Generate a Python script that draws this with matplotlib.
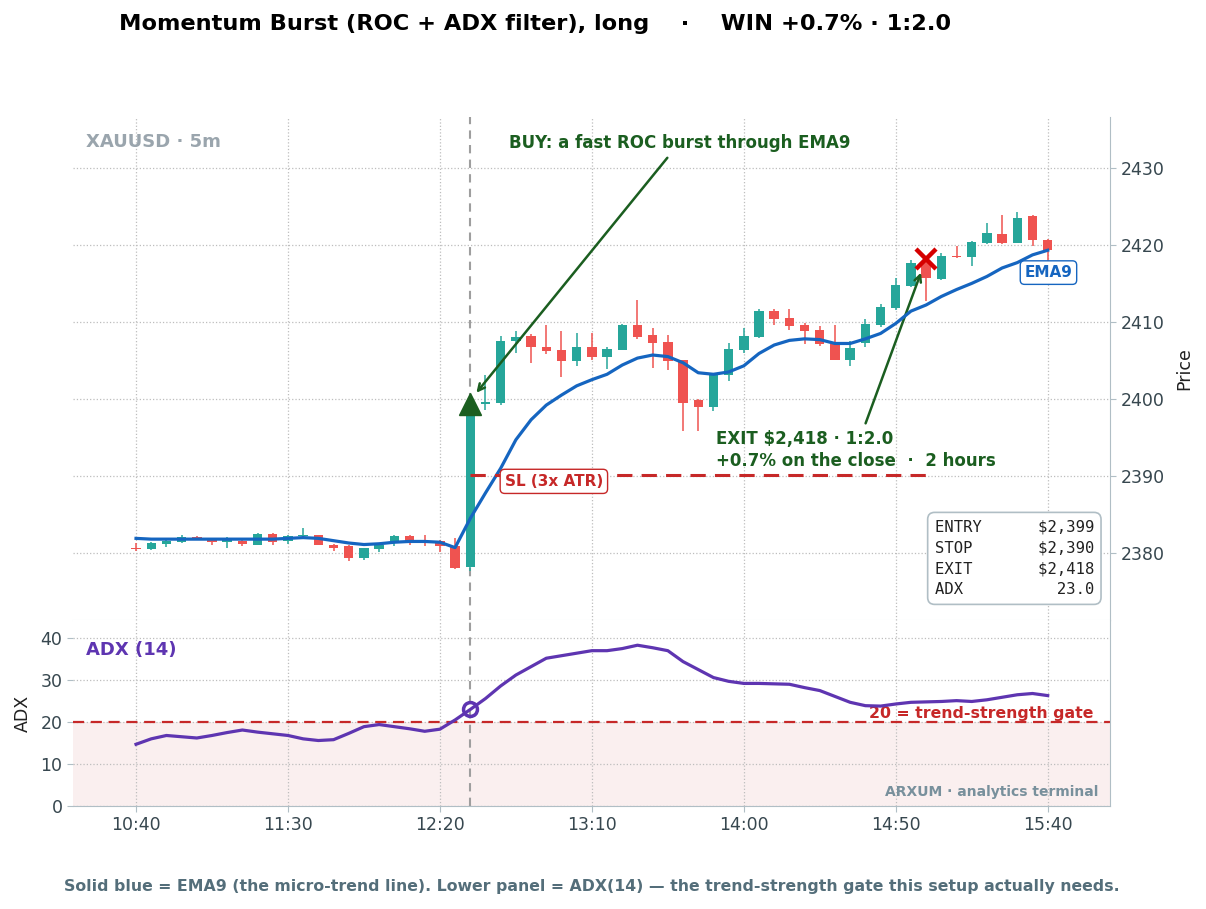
import numpy as np
import matplotlib
matplotlib.use("Agg")
import matplotlib.pyplot as plt

# candles, 5m bars from 10:40 to 15:40
opens = [2380.7, 2380.5, 2381.2, 2381.4, 2382.1, 2381.8, 2381.4, 2381.6, 2381.1, 2382.5,
         2381.5, 2382.2, 2382.3, 2381.1, 2380.9, 2379.4, 2380.5, 2381.4, 2382.2, 2381.6,
         2381.5, 2380.9, 2378.2, 2399.3, 2399.5, 2407.5, 2408.2, 2406.8, 2406.3, 2404.9,
         2406.7, 2405.4, 2406.4, 2409.6, 2408.3, 2407.4, 2405.0, 2399.9, 2398.9, 2403.1,
         2406.3, 2408.1, 2411.4, 2410.5, 2409.6, 2409.0, 2407.1, 2405.1, 2407.2, 2409.6,
         2411.8, 2414.7, 2417.9, 2415.6, 2418.6, 2418.4, 2420.3, 2421.4, 2420.3, 2423.7,
         2420.6]
highs = [2381.3, 2381.4, 2381.8, 2382.4, 2382.2, 2381.9, 2382.1, 2381.8, 2382.6, 2382.6,
         2382.4, 2383.3, 2382.4, 2381.2, 2381.0, 2380.7, 2381.1, 2382.4, 2382.4, 2382.4,
         2381.7, 2381.9, 2399.6, 2403.1, 2408.2, 2408.8, 2408.4, 2409.6, 2408.8, 2408.6,
         2408.6, 2406.8, 2409.7, 2412.9, 2409.2, 2408.3, 2405.1, 2400.0, 2403.2, 2407.3,
         2409.2, 2411.7, 2411.7, 2411.7, 2409.8, 2409.5, 2409.6, 2407.5, 2410.4, 2412.3,
         2415.7, 2418.0, 2418.2, 2419.0, 2419.9, 2420.5, 2422.9, 2423.9, 2424.3, 2423.9,
         2420.7]
lows = [2380.3, 2380.4, 2380.8, 2381.3, 2381.7, 2381.0, 2380.6, 2380.9, 2381.0, 2381.1,
        2381.2, 2382.1, 2381.0, 2380.3, 2378.9, 2379.1, 2380.1, 2380.9, 2381.1, 2380.9,
        2380.1, 2377.9, 2377.6, 2398.6, 2399.2, 2406.0, 2404.7, 2405.8, 2402.9, 2404.3,
        2405.1, 2403.9, 2406.3, 2407.8, 2404.0, 2403.8, 2395.9, 2395.8, 2398.4, 2402.3,
        2406.0, 2407.9, 2409.6, 2408.9, 2407.1, 2406.9, 2405.0, 2404.3, 2406.8, 2409.4,
        2411.6, 2414.5, 2412.7, 2415.4, 2418.3, 2417.2, 2420.1, 2420.1, 2420.2, 2419.9,
        2417.9]
closes = [2380.5, 2381.3, 2381.6, 2382.1, 2381.8, 2381.4, 2381.9, 2381.2, 2382.5, 2381.4,
          2382.2, 2382.4, 2381.1, 2380.6, 2379.4, 2380.6, 2381.0, 2382.2, 2381.5, 2381.4,
          2380.9, 2378.0, 2399.4, 2399.6, 2407.5, 2408.0, 2406.7, 2406.2, 2404.9, 2406.7,
          2405.4, 2406.5, 2409.6, 2408.0, 2407.3, 2404.9, 2399.5, 2398.9, 2403.1, 2406.5,
          2408.2, 2411.4, 2410.4, 2409.5, 2408.8, 2407.1, 2405.1, 2406.6, 2409.7, 2411.9,
          2414.8, 2417.7, 2415.7, 2418.6, 2418.4, 2420.4, 2421.5, 2420.3, 2423.5, 2420.6,
          2419.3]
ema9 = [2381.9, 2381.8, 2381.8, 2381.8, 2381.8, 2381.8, 2381.8, 2381.8, 2381.8, 2381.8,
        2381.9, 2382.0, 2381.9, 2381.6, 2381.3, 2381.1, 2381.2, 2381.4, 2381.5, 2381.5,
        2381.4, 2380.7, 2384.5, 2387.8, 2391.0, 2394.7, 2397.3, 2399.2, 2400.5, 2401.7,
        2402.5, 2403.2, 2404.4, 2405.3, 2405.7, 2405.5, 2404.7, 2403.4, 2403.2, 2403.5,
        2404.3, 2405.9, 2407.0, 2407.6, 2407.8, 2407.7, 2407.2, 2407.2, 2407.8, 2408.5,
        2409.8, 2411.4, 2412.2, 2413.3, 2414.2, 2415.0, 2415.9, 2417.0, 2417.7, 2418.7,
        2419.3]
adx = [14.7, 16.0, 16.8, 16.5, 16.2, 16.8, 17.5, 18.1, 17.6, 17.2,
       16.8, 16.0, 15.6, 15.8, 17.3, 18.9, 19.4, 18.9, 18.4, 17.8,
       18.3, 20.5, 23.0, 25.6, 28.6, 31.2, 33.2, 35.2, 35.8, 36.4,
       37.0, 37.0, 37.5, 38.3, 37.7, 37.0, 34.4, 32.5, 30.6, 29.7,
       29.2, 29.2, 29.1, 29.0, 28.2, 27.5, 26.1, 24.7, 23.9, 23.8,
       24.3, 24.7, 24.8, 24.9, 25.1, 24.9, 25.3, 25.9, 26.5, 26.8,
       26.3]

tick_pos = [0, 10, 20, 30, 40, 50, 60]
tick_labels = ["10:40", "11:30", "12:20", "13:10", "14:00", "14:50", "15:40"]

entry_i, exit_i = 22, 52
entry_px, stop_px, exit_px = 2399.4, 2390.1, 2418.2
adx_gate = 20

UP, DOWN = "#26a69a", "#ef5350"
GRID = "#bdbdbd"
SPINE = "#b0bec5"
TXT = "#37474f"

x = np.arange(len(closes))
o = np.array(opens); c = np.array(closes)
h = np.array(highs); l = np.array(lows)
colors = np.where(c >= o, UP, DOWN)

fig = plt.figure(figsize=(12.06, 9.09), dpi=100)
ax = fig.add_axes([0.0605, 0.3179, 0.8599, 0.5534])
ax2 = fig.add_axes([0.0605, 0.1133, 0.8599, 0.2046], sharex=ax)

# --- price panel
ax.vlines(x, l, h, color=colors, lw=1.1, zorder=2)
body = np.maximum(np.abs(c - o), 0.18)
ax.bar(x, body, bottom=np.minimum(o, c), width=0.62, color=colors, zorder=3)
ax.plot(x, ema9, color="#1565c0", lw=2.3, zorder=4)

ax.axvline(entry_i, color="#9e9e9e", ls=(0, (4, 3)), lw=1.5, zorder=1)
ax.hlines(stop_px, entry_i, exit_i, color="#c62828", ls=(0, (5, 3)), lw=2.2, zorder=4)
ax.plot(entry_i, entry_px, marker="^", ms=16, color="#1b5e20", zorder=6)
ax.plot(exit_i, exit_px, marker="x", ms=14, mew=3.2, color="#d50000", zorder=6)

ax.annotate("BUY: a fast ROC burst through EMA9", xy=(22.4, 2400.8), xytext=(35.77, 2433.25),
            ha="center", va="center", fontsize=12, fontweight="bold", color="#1b5e20",
            arrowprops=dict(arrowstyle="->", color="#1b5e20", lw=1.8, shrinkA=3, shrinkB=0))
ax.annotate("EXIT $2,418 · 1:2.0\n+0.7% on the close  ·  2 hours", xy=(51.66, 2416.4),
            xytext=(38.17, 2393.4), ha="left", va="center", fontsize=12, fontweight="bold",
            color="#1b5e20", linespacing=1.25,
            arrowprops=dict(arrowstyle="->", color="#1b5e20", lw=1.8, shrinkA=3, shrinkB=0))
ax.text(27.5, 2389.3, "SL (3x ATR)", ha="center", va="center", fontsize=11,
        fontweight="bold", color="#c62828", zorder=7,
        bbox=dict(boxstyle="round,pad=0.3", fc="white", ec="#c62828", lw=1))
ax.text(60.05, 2416.4, "EMA9", ha="center", va="center", fontsize=11,
        fontweight="bold", color="#1565c0", zorder=7,
        bbox=dict(boxstyle="round,pad=0.28", fc="white", ec="#1565c0", lw=1))
ax.text(0.0125, 0.951, "XAUUSD · 5m", transform=ax.transAxes, ha="left", va="center",
        fontsize=13, fontweight="bold", color="#9aa5ad")

info = (f"{'ENTRY':<8}{'$2,399':>9}\n{'STOP':<8}{'$2,390':>9}\n"
        f"{'EXIT':<8}{'$2,418':>9}\n{'ADX':<8}{'23.0':>9}")
ax.text(0.9846, 0.045, info, transform=ax.transAxes, ha="right", va="bottom",
        family="DejaVu Sans Mono", fontsize=11.2, color="#212121", zorder=7,
        linespacing=1.5,
        bbox=dict(boxstyle="round,pad=0.45", fc="white", ec=SPINE, lw=1.2))

ax.set_xlim(-4.15, 64.1)
ax.set_ylim(2371.3, 2436.6)
ax.set_yticks([2380, 2390, 2400, 2410, 2420, 2430])
ax.yaxis.tick_right()
ax.yaxis.set_label_position("right")
ax.set_ylabel("Price", fontsize=12.5, color="#212121", labelpad=8)
ax.tick_params(axis="y", labelsize=12.5, colors=TXT, length=4, color=SPINE)
ax.tick_params(axis="x", labelbottom=False, length=0)
ax.grid(True, ls=":", color=GRID, lw=0.9)
for s in ["top", "left"]:
    ax.spines[s].set_visible(False)
ax.spines["right"].set_color(SPINE)
ax.spines["bottom"].set_color("#eceff1")

# --- ADX panel
ax2.axhspan(0, adx_gate, color="#c62828", alpha=0.07, lw=0)
ax2.axhline(adx_gate, color="#c62828", ls=(0, (5, 3)), lw=1.6)
ax2.axvline(entry_i, color="#9e9e9e", ls=(0, (4, 3)), lw=1.5, zorder=1)
ax2.plot(x, adx, color="#5e35b1", lw=2.3, zorder=4)
ax2.plot(entry_i, adx[entry_i], marker="o", ms=10, mfc="none", mec="#5e35b1", mew=2.5, zorder=5)
ax2.text(0.9835, 22.0, "20 = trend-strength gate", transform=ax2.get_yaxis_transform(),
         ha="right", va="center", fontsize=11.3, fontweight="bold", color="#c62828")
ax2.text(0.0125, 0.84, "ADX (14)", transform=ax2.transAxes, ha="left", va="center",
         fontsize=13, fontweight="bold", color="#5e35b1")
ax2.text(0.9885, 0.04, "ARXUM · analytics terminal", transform=ax2.transAxes,
         ha="right", va="bottom", fontsize=10, fontweight="bold", color="#78909c")

ax2.set_ylim(0, 44.3)
ax2.set_yticks([0, 10, 20, 30, 40])
ax2.set_xticks(tick_pos)
ax2.set_xticklabels(tick_labels)
ax2.set_ylabel("ADX", fontsize=12.5, color="#212121", labelpad=6)
ax2.tick_params(labelsize=12.5, colors=TXT, length=4, color=SPINE)
ax2.grid(True, ls=":", color=GRID, lw=0.9)
for s in ["top", "left"]:
    ax2.spines[s].set_visible(False)
for s in ["right", "bottom"]:
    ax2.spines[s].set_color(SPINE)

fig.text(119 / 1206, 1 - 24 / 909,
         "Momentum Burst (ROC + ADX filter), long    ·    WIN +0.7% · 1:2.0",
         ha="left", va="center", fontsize=16.2, fontweight="bold", color="black")
fig.text(592 / 1206, 1 - 887 / 909,
         "Solid blue = EMA9 (the micro-trend line). Lower panel = ADX(14) — the "
         "trend-strength gate this setup actually needs.",
         ha="center", va="center", fontsize=11.35, fontweight="bold", color="#546e7a")

fig.savefig("out.png", dpi=100)
